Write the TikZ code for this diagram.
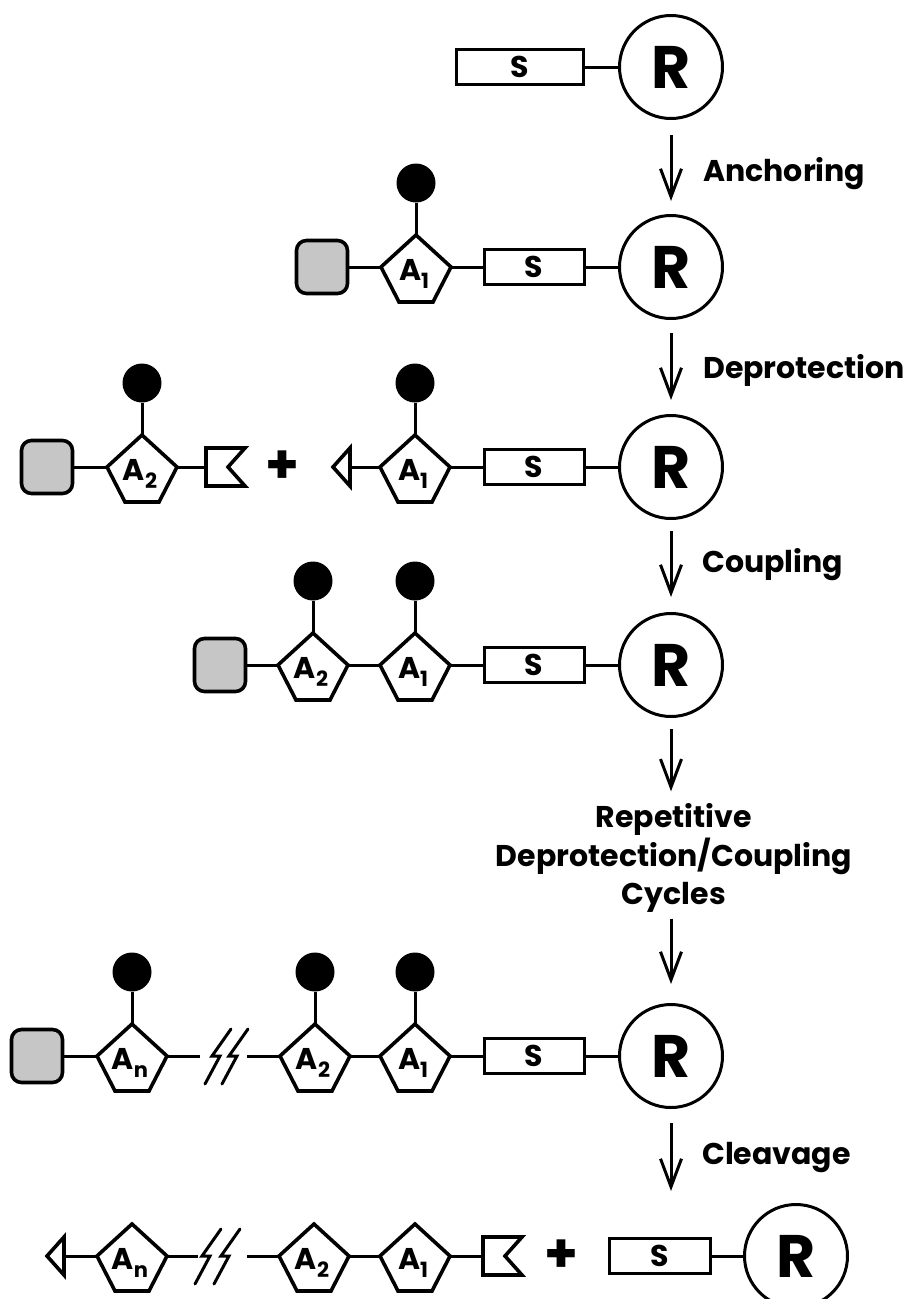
\documentclass[tikz,border=0pt]{standalone}
\usepackage{fontspec}
\setmainfont{Poppins}
\usetikzlibrary{arrows.meta}
\newcommand{\unitpent}[4]{%
  \draw[pentline] (#2,#3) -- (#2+35,#3+32) -- (#2+17,#3+67) -- (#2-17,#3+67) -- (#2-35,#3+32) -- cycle;
  \coordinate (#1-t) at (#2,#3);
  \coordinate (#1-l) at (#2-35,#3+32);
  \coordinate (#1-r) at (#2+35,#3+32);
  \node[alabel] (#1) at (#2-2,#3+39) {A\raisebox{-8pt}{\fontsize{21}{21}\selectfont #4}};
}
\newcommand{\unitdot}[3]{%
  \node[dotnode] (#1-d) at (#2,#3-52) {};
  \draw[conn] (#1-d) -- (#1-t);
}
\newcommand{\unitflag}[3]{%
  \coordinate (#1) at (#2,#3);
  \draw[pentline] (#2,#3-19) -- (#2+39,#3-19) -- (#2+22,#3) -- (#2+39,#3+19) -- (#2,#3+19) -- cycle;
}
\newcommand{\unittri}[3]{%
  \coordinate (#1) at (#2,#3);
  \draw[pentline] (#2,#3-19) -- (#2-17,#3) -- (#2,#3+19) -- cycle;
}
\newcommand{\unitzig}[2]{%
  \draw[conn, line cap=round] (#1+13,#2-27) -- (#1-6,#2) -- (#1+2,#2) -- (#1-13,#2+28);
}
\begin{document}
\begin{tikzpicture}[x=1pt,y=-1pt,
  conn/.style={line width=3pt},
  pentline/.style={line width=3.6pt, line join=miter},
  dotnode/.style={circle, fill=black, minimum size=39pt, inner sep=0pt},
  sbox/.style={draw, line width=3pt, minimum height=35pt, inner sep=0pt, font=\fontsize{30}{30}\selectfont\bfseries},
  rcirc/.style={draw, circle, line width=3pt, minimum size=103pt, inner sep=0pt, font=\fontsize{60}{60}\selectfont\bfseries},
  gbox/.style={draw, line width=3.6pt, rounded corners=10pt, fill=gray!45, minimum width=51pt, minimum height=53pt, inner sep=0pt},
  alabel/.style={inner sep=0pt, font=\fontsize{30}{30}\selectfont\bfseries},
  steparrow/.style={line width=3pt, -{Straight Barb[length=28pt,width=21pt]}},
  lbl/.style={font=\fontsize{30}{38}\selectfont\bfseries, anchor=base west, inner sep=0pt},
  replbl/.style={font=\fontsize{30}{38.5}\selectfont\bfseries, align=center, inner sep=0pt},
  plusnode/.style={inner sep=0pt, font=\fontsize{54}{54}\selectfont\bfseries}
]
\useasboundingbox (0,0) rectangle (910,1299);

% Row 1
\node[sbox, minimum width=127pt] (S1) at (519.5,67) {S};
\node[rcirc] (R1) at (671,67) {R};
\draw[conn] (S1) -- (R1);

% Row 2
\node[gbox] (G2) at (322,267) {};
\unitpent{P2a}{416}{235}{1}
\unitdot{P2a}{416}{235}
\node[sbox, minimum width=100pt] (S2) at (534,267) {S};
\node[rcirc] (R2) at (671,267) {R};
\draw[conn] (G2) -- (P2a-l);
\draw[conn] (P2a-r) -- (S2);
\draw[conn] (S2) -- (R2);

% Row 3
\node[gbox] (G3) at (47,467) {};
\unitpent{P3b}{142}{435}{2}
\unitdot{P3b}{142}{435}
\unitflag{F3}{206}{467}
\node[plusnode] (plus3) at (282,467) {+};
\unittri{T3}{350}{467}
\unitpent{P3a}{415}{435}{1}
\unitdot{P3a}{415}{435}
\node[sbox, minimum width=100pt] (S3) at (534,467) {S};
\node[rcirc] (R3) at (671,467) {R};
\draw[conn] (G3) -- (P3b-l);
\draw[conn] (P3b-r) -- (F3);
\draw[conn] (T3) -- (P3a-l);
\draw[conn] (P3a-r) -- (S3);
\draw[conn] (S3) -- (R3);

% Row 4
\node[gbox] (G4) at (220,665) {};
\unitpent{P4b}{313}{633}{2}
\unitdot{P4b}{313}{633}
\unitpent{P4a}{415}{633}{1}
\unitdot{P4a}{415}{633}
\node[sbox, minimum width=100pt] (S4) at (534,665) {S};
\node[rcirc] (R4) at (671,665) {R};
\draw[conn] (G4) -- (P4b-l);
\draw[conn] (P4b-r) -- (P4a-l);
\draw[conn] (P4a-r) -- (S4);
\draw[conn] (S4) -- (R4);

% Row 5
\node[gbox] (G5) at (37,1056) {};
\unitpent{P5n}{132}{1024}{n}
\unitdot{P5n}{132}{1024}
\coordinate (Z5a) at (200,1056);
\coordinate (Z5b) at (247,1056);
\unitzig{218}{1056}
\unitzig{235}{1056}
\unitpent{P5b}{315}{1024}{2}
\unitdot{P5b}{315}{1024}
\unitpent{P5a}{415}{1024}{1}
\unitdot{P5a}{415}{1024}
\node[sbox, minimum width=100pt] (S5) at (534,1056) {S};
\node[rcirc] (R5) at (671,1056) {R};
\draw[conn] (G5) -- (P5n-l);
\draw[conn] (P5n-r) -- (Z5a);
\draw[conn] (Z5b) -- (P5b-l);
\draw[conn] (P5b-r) -- (P5a-l);
\draw[conn] (P5a-r) -- (S5);
\draw[conn] (S5) -- (R5);

% Row 6
\unittri{T6}{64}{1256}
\unitpent{P6n}{132}{1224}{n}
\coordinate (Z6a) at (198,1256);
\coordinate (Z6b) at (247,1256);
\unitzig{208}{1256}
\unitzig{227}{1256}
\unitpent{P6b}{314}{1224}{2}
\unitpent{P6a}{415}{1224}{1}
\unitflag{F6}{483}{1256}
\node[plusnode] (plus6) at (561,1256) {+};
\node[sbox, minimum width=101pt] (S6) at (659.5,1256) {S};
\node[rcirc] (R6) at (796,1256) {R};
\draw[conn] (T6) -- (P6n-l);
\draw[conn] (P6n-r) -- (Z6a);
\draw[conn] (Z6b) -- (P6b-l);
\draw[conn] (P6b-r) -- (P6a-l);
\draw[conn] (P6a-r) -- (F6);
\draw[conn] (S6) -- (R6);

% Step arrows and labels
\draw[steparrow, shorten <=15pt, shorten >=13pt] (R1) -- (R2);
\draw[steparrow, shorten <=13pt, shorten >=14pt] (R2) -- (R3);
\draw[steparrow, shorten <=11pt, shorten >=15pt] (R3) -- (R4);
\node[lbl] (l1) at (703,181) {Anchoring};
\node[lbl] (l2) at (703,378) {Deprotection};
\node[lbl] (l3) at (702,572) {Coupling};
\node[replbl] (rep) at (674,858) {Repetitive\\Deprotection/Coupling\\Cycles};
\draw[steparrow, shorten <=11pt, shorten >=12pt] (R4.south) -- (R4.south |- rep.north);
\draw[steparrow, shorten <=6pt, shorten >=19pt] (R5.north |- rep.south) -- (R5.north);
\draw[steparrow, shorten <=14pt, shorten >=12pt] (R5.south) -- (R5.south |- R6.north);
\node[lbl] (l4) at (702,1164) {Cleavage};
\end{tikzpicture}
\end{document}
